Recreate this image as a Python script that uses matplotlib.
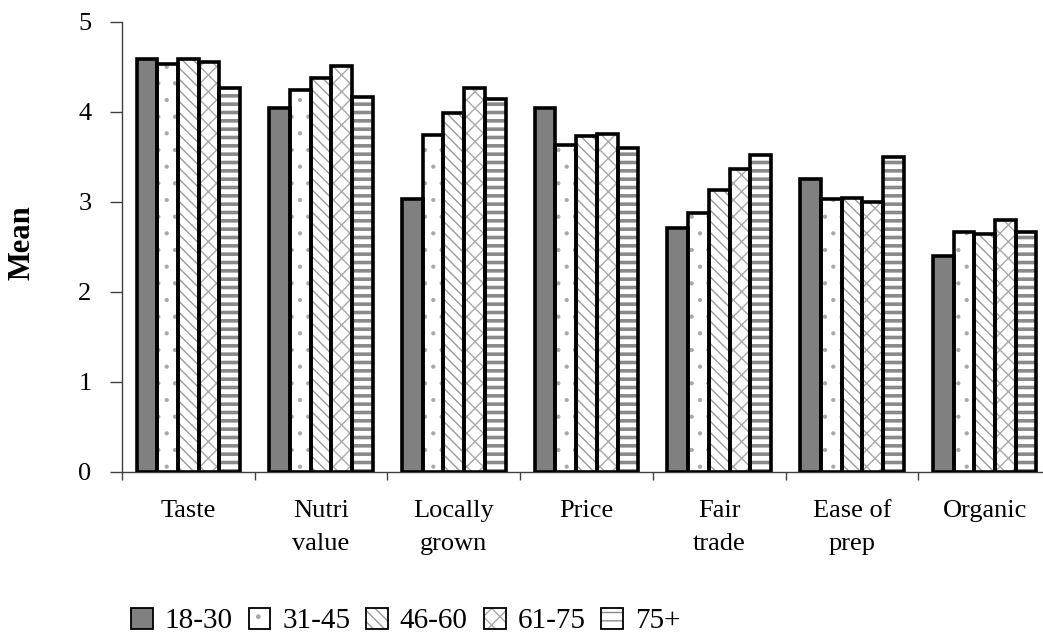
import matplotlib
matplotlib.use("Agg")
import matplotlib.pyplot as plt
import matplotlib.patches as mpatches
from matplotlib.legend_handler import HandlerTuple
import numpy as np

categories = ["Taste", "Nutri\nvalue", "Locally\ngrown", "Price", "Fair\ntrade", "Ease of\nprep", "Organic"]
age_groups = ["18-30", "31-45", "46-60", "61-75", "75+"]

means_18_30 = [4.59, 4.04, 3.03, 4.04, 2.71, 3.26, 2.40]
means_31_45 = [4.53, 4.25, 3.74, 3.63, 2.88, 3.03, 2.67]
means_46_60 = [4.59, 4.38, 3.99, 3.73, 3.13, 3.05, 2.64]
means_61_75 = [4.56, 4.51, 4.27, 3.76, 3.37, 3.00, 2.80]
means_75_plus = [4.27, 4.17, 4.14, 3.60, 3.52, 3.50, 2.67]

series = [means_18_30, means_31_45, means_46_60, means_61_75, means_75_plus]

# fill / hatch style per age group
styles = [
    dict(face="#808080", hatch=None, hcol="#808080", hlw=1.0),
    dict(face="white", hatch=".", hcol="#a8a8a8", hlw=0.6),
    dict(face="white", hatch="\\\\\\", hcol="#9a9a9a", hlw=1.0),
    dict(face="white", hatch="xx", hcol="#a8a8a8", hlw=1.0),
    dict(face="white", hatch="--", hcol="#8a8a8a", hlw=2.6),
]

plt.rcParams["font.family"] = ["Liberation Serif", "DejaVu Serif"]

W, H = 1043, 636
fig = plt.figure(figsize=(W / 100, H / 100), dpi=100)
ax = fig.add_axes([122 / W, 1 - 472 / H, 929 / W, 450 / H])

x = np.arange(len(categories))
bw = 0.156
offsets = (np.arange(len(series)) - 2) * bw

legend_handles = []
for vals, st, off, name in zip(series, styles, offsets, age_groups):
    with plt.rc_context({"hatch.linewidth": st["hlw"], "hatch.color": st["hcol"]}):
        ax.bar(x + off, vals, width=bw, color=st["face"], edgecolor=st["hcol"],
               hatch=st["hatch"], linewidth=0, zorder=2)
        ax.bar(x + off, vals, width=bw, fill=False, edgecolor="black",
               linewidth=2.6, zorder=3)
        swatch = mpatches.Patch(facecolor=st["face"], edgecolor=st["hcol"],
                                hatch=st["hatch"], linewidth=0)
        outline = mpatches.Patch(fill=False, edgecolor="black", linewidth=1.3)
        legend_handles.append((swatch, outline))

ax.set_xlim(-0.5, len(categories) - 0.5)
ax.set_ylim(0, 5)
ax.set_yticks([0, 1, 2, 3, 4, 5])
ax.tick_params(axis="y", length=9, width=1, labelsize=19, pad=13, color="#404040")
ax.set_xticks(x)
ax.set_xticklabels(categories, fontsize=19, linespacing=1.65)
ax.tick_params(axis="x", which="major", length=0, pad=20)
ax.set_xticks(np.arange(len(categories) + 1) - 0.5, minor=True)
ax.tick_params(axis="x", which="minor", length=6, width=1, color="#404040")

for s in ["top", "right"]:
    ax.spines[s].set_visible(False)
for s in ["left", "bottom"]:
    ax.spines[s].set_color("#404040")
    ax.spines[s].set_linewidth(1.0)

fig.text(22 / W, 1 - 243 / H, "Mean", rotation=90, fontsize=22, fontweight="bold",
         ha="center", va="center")

leg = fig.legend(legend_handles, age_groups, loc="center left",
                 handler_map={tuple: HandlerTuple(ndivide=1, pad=0)},
                 bbox_to_anchor=(131 / W, 1 - 621 / H), ncol=5, frameon=False,
                 fontsize=21, handlelength=0.75, handleheight=0.75,
                 handletextpad=0.4, columnspacing=0.55, borderaxespad=0,
                 borderpad=0)

fig.savefig("out.png", dpi=100)
